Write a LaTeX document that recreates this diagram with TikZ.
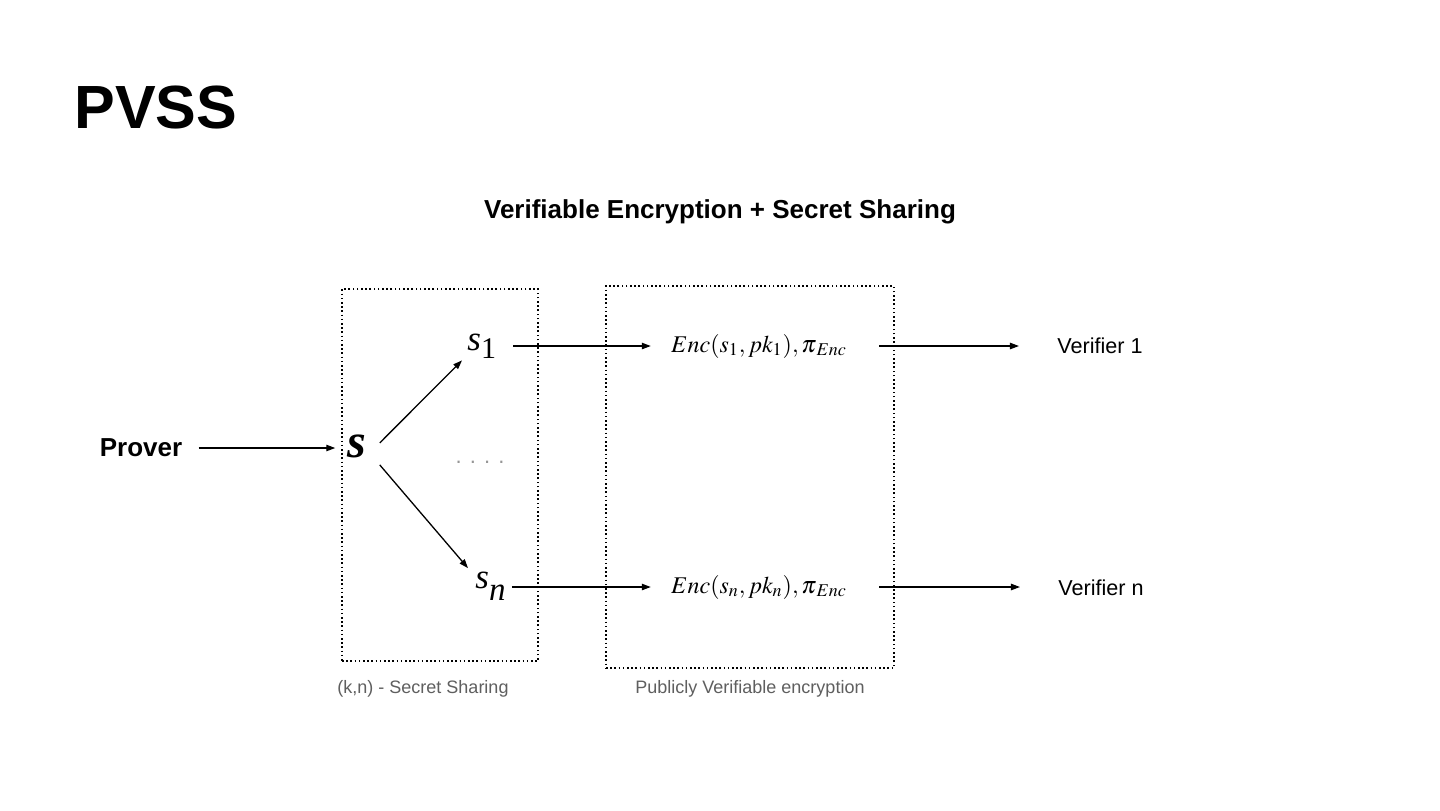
\documentclass[tikz,border=0pt]{standalone}
\usepackage{mathptmx}
\usepackage[no-math]{fontspec}
\setmainfont{Liberation Sans}
\newfontfamily\tnr{Liberation Serif}
\usetikzlibrary{arrows.meta}
\definecolor{capgray}{RGB}{95,95,95}
\definecolor{dotgray}{RGB}{150,150,150}
\begin{document}
\begin{tikzpicture}[x=0.5pt,y=-0.5pt,
  arr/.style={line width=0.65pt,-{Triangle[length=4.5pt,width=3.2pt]}},
  dbox/.style={draw, line width=0.8pt, dash pattern=on 0.8pt off 1.3pt, inner sep=0},
  txt/.style={inner sep=0},
  sansb/.style={font=\fontsize{13}{13}\selectfont\bfseries},
  mathf/.style={font=\fontsize{12}{13}\selectfont},
  share/.style={font=\fontsize{17.5}{18}\selectfont\tnr},
  verif/.style={font=\fontsize{10.8}{11}\selectfont},
  capt/.style={text=capgray, font=\fontsize{9}{9}\selectfont}]
\useasboundingbox (0,0) rectangle (1440,810);
\fill[white] (0,0) rectangle (1440,810);

\node[txt, anchor=base west, font=\fontsize{30.5}{31}\selectfont\bfseries] (pvss) at (74,128) {PVSS};
\node[txt, sansb] (title) at (720,212) {Verifiable Encryption + Secret Sharing};

\node[dbox, minimum width=98pt, minimum height=186pt] (ssbox) at (440,475) {};
\node[dbox, minimum width=144pt, minimum height=191pt] (encbox) at (750,477) {};

\node[txt, sansb] (prover) at (141,448) {Prover};
\node[txt, anchor=base, font=\fontsize{24}{24}\selectfont\tnr\bfseries\itshape] (s) at (357,457) {s};
\node[txt, anchor=base west, share] (s1) at (467,350) {{\itshape s}\raisebox{-4pt}{\fontsize{15}{15}\selectfont 1}};
\node[txt, anchor=base west, share] (sn) at (475,588) {{\itshape s}\raisebox{-6pt}{\fontsize{16.5}{16.5}\selectfont\itshape n}};
\node[txt, anchor=base, text=dotgray, font=\fontsize{11}{11}\selectfont] (dots) at (480,463) {. . . .};

\node[txt, anchor=base, mathf] (enc1) at (759,352) {$Enc(s_1,pk_1),\pi_{\mkern2mu Enc}$};
\node[txt, anchor=base, mathf] (encn) at (759,593) {$Enc(s_n,pk_n),\pi_{\mkern2mu Enc}$};

\node[txt, verif] (v1) at (1100,346) {Verifier 1};
\node[txt, verif] (vn) at (1101,588) {Verifier n};

\node[txt, capt] (cap1) at (423,689) {(k,n) - Secret Sharing};
\node[txt, capt] (cap2) at (750,689) {Publicly Verifiable encryption};

\draw[arr, shorten <=8pt, shorten >=6pt] (prover.east) -- (prover.east -| s.west);
\draw[arr] ([shift={(13,-3)}]s.east) -- ([shift={(-5,2)}]s1.south west);
\draw[arr] ([shift={(13,7)}]s.south east) -- ([shift={(-7,-3)}]sn.north west);

\draw[arr, shorten <=8.5pt, shorten >=10pt] (s1.east |- enc1.west) -- (enc1.west);
\draw[arr, shorten <=3pt, shorten >=10pt] (sn.east |- encn.west) -- (encn.west);

\draw[arr, shorten <=16pt, shorten >=19pt] (enc1.east) -- (enc1.east -| v1.west);
\draw[arr, shorten <=16pt, shorten >=19pt] (encn.east) -- (encn.east -| vn.west);
\end{tikzpicture}
\end{document}
